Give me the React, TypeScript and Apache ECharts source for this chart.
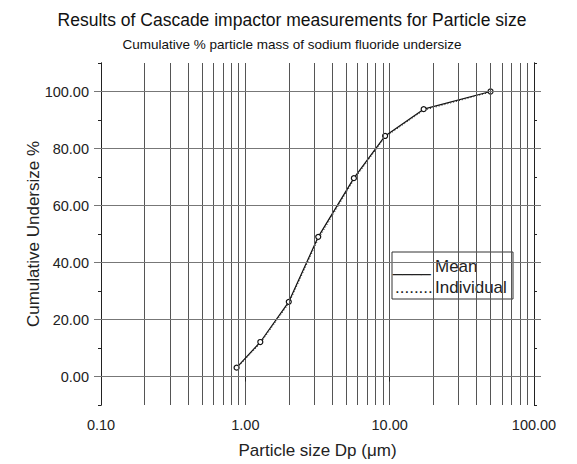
import React, { useEffect, useRef } from "react";
import * as echarts from "echarts";

const FONT = 'Arial, "Liberation Sans", sans-serif';

const titleText = "Results of Cascade impactor measurements for Particle size";
const subtitleText = "Cumulative % particle mass of sodium fluoride undersize";
const xName = "Particle size Dp (\u03bcm)";
const yName = "Cumulative Undersize %";

// particle size (µm) and cumulative undersize (%)
const sizes = [0.87, 1.27, 2.0, 3.2, 5.65, 9.3, 17.2, 50];
const meanValues = [3.1, 12.1, 26.2, 49.0, 69.6, 84.4, 93.8, 100.0];
const individualValues = [2.8, 11.6, 25.6, 48.2, 69.0, 84.0, 93.4, 99.8];

const yMajorTicks = [0, 20, 40, 60, 80, 100];
const xMinorGrid = [0.2, 0.3, 0.4, 0.5, 0.6, 0.7, 0.8, 0.9, 2, 3, 4, 5, 6, 7, 8, 9, 20, 30, 40, 50, 60, 70, 80, 90];

export default function App() {
  const ref = useRef<HTMLDivElement>(null);
  useEffect(() => {
    if (!ref.current) return;
    const chart = echarts.init(ref.current, null, { renderer: "svg" });
    const mean = sizes.map((s, i) => [s, meanValues[i]]);
    const indiv = sizes.map((s, i) => [s, individualValues[i]]);
    const gridLineData: any[] = [];
    xMinorGrid.forEach((v) => gridLineData.push({ xAxis: v, lineStyle: { color: "#555", width: 1, type: "solid" } }));
    yMajorTicks.forEach((v) => gridLineData.push({ yAxis: v, lineStyle: { color: "#777", width: 1, type: "solid" } }));

    const minorAxis = (position: "left" | "right") => ({
      type: "value",
      position,
      min: -10,
      max: 110,
      interval: 10,
      axisLine: { show: true, onZero: false, lineStyle: { color: "#222", width: 1 } },
      axisTick: { show: true, length: 3, lineStyle: { color: "#222" } },
      axisLabel: { show: false },
      splitLine: { show: false },
    });
    const majorAxis = (position: "left" | "right", labels: boolean) => ({
      type: "value",
      position,
      min: -10,
      max: 110,
      axisLine: { show: true, onZero: false, lineStyle: { color: "#222", width: 1 } },
      axisTick: { show: true, length: 7, customValues: yMajorTicks, lineStyle: { color: "#777" } },
      axisLabel: {
        show: labels,
        customValues: yMajorTicks,
        formatter: (v: number) => v.toFixed(2),
        fontSize: 14.5,
        color: "#222",
        fontFamily: FONT,
        margin: 12,
      },
      splitLine: { show: false },
      ...(labels
        ? {
            name: yName,
            nameLocation: "middle",
            nameGap: 59,
            nameMoveOverlap: false,
            nameTextStyle: { fontSize: 17, color: "#222", fontFamily: FONT },
          }
        : {}),
    });

    chart.setOption({
      animation: false,
      backgroundColor: "#fff",
      grid: { left: 101, right: 43, top: 63, bottom: 57, containLabel: false },
      xAxis: {
        type: "log",
        logBase: 10,
        min: 0.1,
        max: 100,
        axisLine: { show: true, lineStyle: { color: "#222", width: 1 } },
        axisTick: { show: true, length: 5, lineStyle: { color: "#222" } },
        axisLabel: {
          formatter: (v: number) => Number(v).toFixed(2),
          fontSize: 14.5,
          color: "#222",
          fontFamily: FONT,
          margin: 12,
        },
        splitLine: { show: true, lineStyle: { color: "#555", width: 1 } },
        name: xName,
        nameLocation: "middle",
        nameGap: 37,
        nameMoveOverlap: false,
        nameTextStyle: { fontSize: 17, color: "#222", fontFamily: FONT },
      },
      yAxis: [minorAxis("left"), majorAxis("left", true), minorAxis("right"), majorAxis("right", false)],
      series: [
        {
          name: "grid",
          type: "line",
          data: [],
          silent: true,
          z: 1,
          markLine: {
            silent: true,
            symbol: ["none", "none"],
            label: { show: false },
            emphasis: { disabled: true },
            animation: false,
            data: gridLineData,
          },
        },
        {
          name: "Individual",
          type: "line",
          data: indiv,
          yAxisIndex: 0,
          z: 3,
          symbol: "none",
          lineStyle: { color: "#333", width: 1, type: [1, 2] },
        },
        {
          name: "Mean",
          type: "line",
          data: mean,
          yAxisIndex: 0,
          z: 4,
          symbol: "circle",
          symbolSize: 5,
          itemStyle: { color: "#fff", borderColor: "#111", borderWidth: 1.2 },
          lineStyle: { color: "#111", width: 1.2 },
        },
      ],
      graphic: [
        {
          type: "text",
          x: 292,
          y: 20,
          style: { text: titleText, fontSize: 17.5, fontFamily: FONT, fill: "#111", textAlign: "center", textVerticalAlign: "middle" },
        },
        {
          type: "text",
          x: 292,
          y: 44,
          style: { text: subtitleText, fontSize: 13.5, fontFamily: FONT, fill: "#111", textAlign: "center", textVerticalAlign: "middle" },
        },
        {
          type: "group",
          x: 392,
          y: 252,
          z: 100,
          children: [
            { type: "rect", shape: { x: 0, y: 0, width: 121, height: 47 }, style: { fill: "#fff", stroke: "#333", lineWidth: 1 } },
            { type: "text", x: 1, y: 14, style: { text: "____", fontSize: 17, fontFamily: FONT, fill: "#222", textVerticalAlign: "middle" } },
            { type: "text", x: 43, y: 14, style: { text: "Mean", fontSize: 17, fontFamily: FONT, fill: "#222", textVerticalAlign: "middle" } },
            { type: "text", x: 3, y: 35, style: { text: "........", fontSize: 17, fontFamily: FONT, fill: "#222", textVerticalAlign: "middle" } },
            { type: "text", x: 43, y: 35, style: { text: "Individual", fontSize: 17, fontFamily: FONT, fill: "#222", textVerticalAlign: "middle" } },
          ],
        },
      ],
    });
    return () => chart.dispose();
  }, []);
  return <div ref={ref} style={{ position: "absolute", left: 0, top: 0, width: 577, height: 464 }} />;
}
